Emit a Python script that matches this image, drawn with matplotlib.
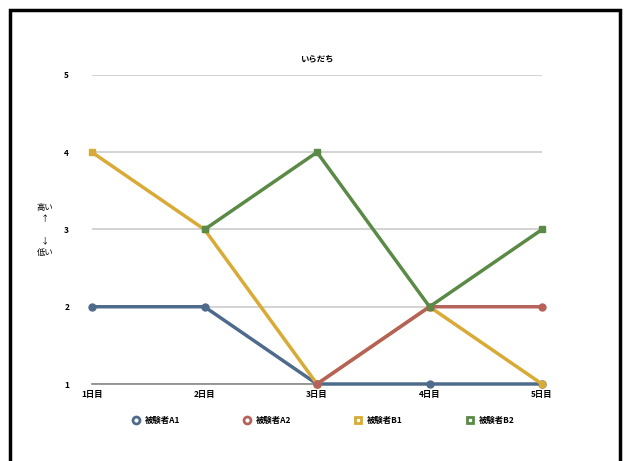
import matplotlib.pyplot as plt
import matplotlib.patches as patches
from matplotlib.lines import Line2D
import numpy as np

plt.rcParams['font.family'] = ['Noto Sans CJK JP', 'DejaVu Sans']

# data
days = ['1日目', '2日目', '3日目', '4日目', '5日目']
title = 'いらだち'
names = ['被験者A1', '被験者A2', '被験者B1', '被験者B2']
blue = [2, 2, 1, 1, 1]
red = [np.nan, np.nan, 1, 2, 2]
yellow = [4, 3, 1, 2, 1]
green = [np.nan, 3, 4, 2, 3]

colors = ['#4e6b8c', '#b5625b', '#d9aa36', '#5a8a45']
markers = ['o', 'o', 's', 's']
zorders = [3, 5, 4, 6]

fig = plt.figure(figsize=(6.27, 4.61), dpi=100)
ax = fig.add_axes([92 / 627, 77 / 461, 450 / 627, 309 / 461])

x = np.arange(len(days))
for vals, c, m, z in zip([blue, red, yellow, green], colors, markers, zorders):
    ax.plot(x, vals, color=c, lw=2.5, marker=m, ms=5, mfc=c, mec=c,
            zorder=z, clip_on=False)

ax.set_xlim(0, 4)
ax.set_ylim(1, 5)
ax.set_xticks(x)
ax.set_xticklabels(days, fontsize=6, fontweight='bold')
ax.set_yticks([1, 2, 3, 4, 5])
ax.set_yticklabels(['1', '2', '3', '4', '5'], fontsize=6, fontweight='bold')
ax.tick_params(length=0, pad=4)
ax.tick_params(axis='y', pad=20)
for lab in ax.get_yticklabels():
    lab.set_horizontalalignment('left')
ax.grid(axis='y', color='#cccccc', lw=1.2)
for s in ['top', 'right', 'left']:
    ax.spines[s].set_visible(False)
ax.spines['bottom'].set_color('#888888')
ax.spines['bottom'].set_linewidth(1.2)

ax.set_title(title, fontsize=6, fontweight='bold', pad=10)
fig.text(45 / 627, 1 - 230 / 461, '高い\n↑\n\n↓\n低い', fontsize=6,
         ha='center', va='center', linespacing=1.3)

handles = [Line2D([], [], ls='none', marker=m, ms=5, mfc='white', mec=c, mew=2)
           for c, m in zip(colors, markers)]
fig.legend(handles, names, loc='center', bbox_to_anchor=(0.515, 1 - 420 / 461), ncol=4,
           frameon=False, prop={'size': 6, 'weight': 'bold'}, columnspacing=7.5,
           handlelength=1.0, handletextpad=0.6)

# outer frame
fig.patches.append(patches.Rectangle((10 / 627, -0.05), 610 / 627, 1 - 10 / 461 + 0.05,
                                     transform=fig.transFigure, fill=False,
                                     ec='black', lw=2.5))

fig.savefig('out.png', dpi=100)
